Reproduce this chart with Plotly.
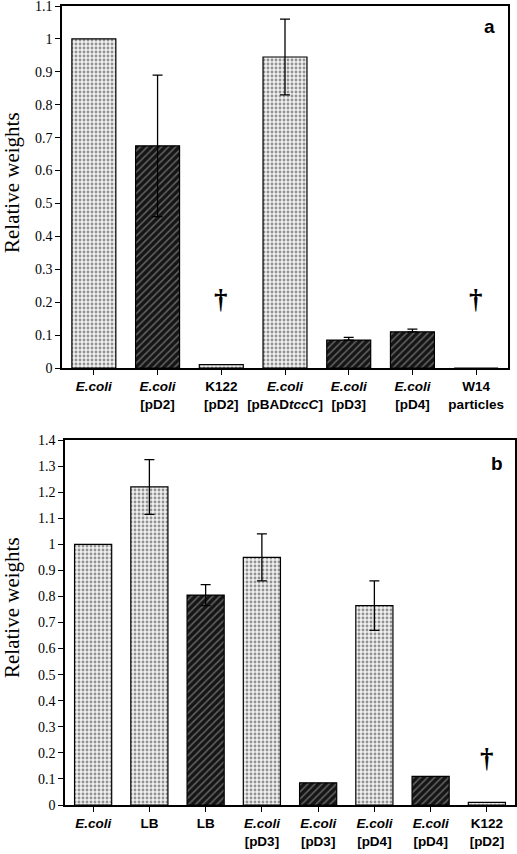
import plotly.graph_objects as go

W, H = 517, 854

# ---- Panel a data ----
a_labels = ["<i>E.coli</i>", "<i>E.coli</i><br>[pD2]", "K122<br>[pD2]",
            "<i>E.coli</i><br>[pBAD<i>tccC</i>]", "<i>E.coli</i><br>[pD3]",
            "<i>E.coli</i><br>[pD4]", "W14<br>particles"]
a_values = [1.0, 0.675, 0.01, 0.945, 0.085, 0.11, 0.0]
a_err_plus = [0, 0.215, 0, 0.115, 0.008, 0.008, 0]
a_err_minus = [0, 0.215, 0, 0.115, 0, 0, 0]
a_style = ["light", "dark", "light", "light", "dark", "dark", "light"]
a_dagger_idx = [2, 6]
a_dagger_y = 0.21
a_yticks = [0, 0.1, 0.2, 0.3, 0.4, 0.5, 0.6, 0.7, 0.8, 0.9, 1, 1.1]
a_yticktext = ["0", "0.1", "0.2", "0.3", "0.4", "0.5", "0.6", "0.7", "0.8", "0.9", "1", "1.1"]

# ---- Panel b data ----
b_labels = ["<i>E.coli</i>", "LB", "LB", "<i>E.coli</i><br>[pD3]", "<i>E.coli</i><br>[pD3]",
            "<i>E.coli</i><br>[pD4]", "<i>E.coli</i><br>[pD4]", "K122<br>[pD2]"]
b_values = [1.0, 1.22, 0.805, 0.95, 0.085, 0.765, 0.11, 0.01]
b_err_plus = [0, 0.105, 0.04, 0.09, 0, 0.095, 0, 0]
b_err_minus = [0, 0.105, 0.04, 0.09, 0, 0.095, 0, 0]
b_style = ["light", "light", "dark", "light", "dark", "light", "dark", "light"]
b_dagger_idx = [7]
b_dagger_y = 0.18
b_yticks = [0, 0.1, 0.2, 0.3, 0.4, 0.5, 0.6, 0.7, 0.8, 0.9, 1, 1.1, 1.2, 1.3, 1.4]
b_yticktext = ["0", "0.1", "0.2", "0.3", "0.4", "0.5", "0.6", "0.7", "0.8", "0.9", "1",
               "1.1", "1.2", "1.3", "1.4"]

STYLES = {
    "light": dict(color="#f0f0f0",
                  pattern=dict(shape=".", fgcolor="#333333", size=4, solidity=0.4, fillmode="overlay")),
    "dark": dict(color="#151515",
                 pattern=dict(shape="/", fgcolor="#b0b0b0", size=5, solidity=0.3, fillmode="overlay")),
}

fig = go.Figure()

def add_panel(values, styles, ep, em, width, xa, ya):
    for st in ("light", "dark"):
        idx = [i for i, s in enumerate(styles) if s == st]
        fig.add_trace(go.Bar(
            x=idx, y=[values[i] for i in idx], width=width,
            marker=dict(color=STYLES[st]["color"], pattern=STYLES[st]["pattern"],
                        line=dict(color="black", width=1.2)),
            xaxis=xa, yaxis=ya, showlegend=False, hoverinfo="skip"))
    idx = [i for i in range(len(values)) if ep[i] > 0]
    fig.add_trace(go.Scatter(
        x=idx, y=[values[i] for i in idx], mode="markers",
        marker=dict(size=1, opacity=0),
        error_y=dict(type="data", array=[ep[i] for i in idx], arrayminus=[em[i] for i in idx],
                     symmetric=False, color="black", thickness=1.3, width=5),
        xaxis=xa, yaxis=ya, showlegend=False, hoverinfo="skip"))

add_panel(a_values, a_style, a_err_plus, a_err_minus, 0.69, "x", "y")
add_panel(b_values, b_style, b_err_plus, b_err_minus, 0.66, "x2", "y2")

tickfont_y = dict(family="Liberation Serif", size=14, color="black")
tickfont_x = dict(family="Liberation Sans", size=13.5, color="black", weight="bold")

def yd(top_px, bot_px):
    return [1 - bot_px / H, 1 - top_px / H]

common_axis = dict(showline=True, linecolor="black", linewidth=1.5, mirror=True,
                   showgrid=False, zeroline=False, ticks="outside", tickcolor="black",
                   ticklen=5, tickwidth=1.2, automargin=False, ticklabeloverflow="allow")

fig.update_layout(
    width=W, height=H, margin=dict(l=0, r=0, t=0, b=0),
    plot_bgcolor="white", paper_bgcolor="white", barmode="overlay",
    xaxis=dict(domain=[62 / W, 508 / W], range=[-0.5, len(a_values) - 0.5],
               tickvals=list(range(len(a_values))), ticktext=a_labels,
               tickfont=tickfont_x, anchor="y", **common_axis),
    yaxis=dict(domain=yd(6, 368), range=[0, 1.1], tickvals=a_yticks, ticktext=a_yticktext,
               tickfont=tickfont_y, anchor="x", **common_axis),
    xaxis2=dict(domain=[65 / W, 515 / W], range=[-0.5, len(b_values) - 0.5],
                tickvals=list(range(len(b_values))), ticktext=b_labels,
                tickfont=tickfont_x, anchor="y2", **common_axis),
    yaxis2=dict(domain=yd(440, 805), range=[0, 1.4], tickvals=b_yticks, ticktext=b_yticktext,
                tickfont=tickfont_y, anchor="x2", **common_axis),
)

def note(x, y, text, font, xref="paper", yref="paper", angle=0):
    return dict(x=x, y=y, xref=xref, yref=yref, text=text, showarrow=False,
                xanchor="center", yanchor="middle", textangle=angle, font=font)

dag_font = dict(family="Liberation Serif", size=27, color="black", weight="bold")
ann = []
for i in a_dagger_idx:
    ann.append(note(i, a_dagger_y, "†", dag_font, "x", "y"))
for i in b_dagger_idx:
    ann.append(note(i, b_dagger_y, "†", dag_font, "x2", "y2"))
letter_font = dict(family="Liberation Sans", size=19, color="black", weight="bold")
ann.append(note(490 / W, 1 - 26 / H, "a", letter_font))
ann.append(note(497 / W, 1 - 463 / H, "b", letter_font))
title_font = dict(family="Liberation Serif", size=21, color="black")
ann.append(note(12 / W, 1 - 183 / H, "Relative weights", title_font, angle=-90))
ann.append(note(12 / W, 1 - 608 / H, "Relative weights", title_font, angle=-90))
fig.update_layout(annotations=ann)

fig.write_html("out.html", config={"displayModeBar": False},
               post_script="document.body.style.margin='0';document.body.style.overflow='hidden';")
